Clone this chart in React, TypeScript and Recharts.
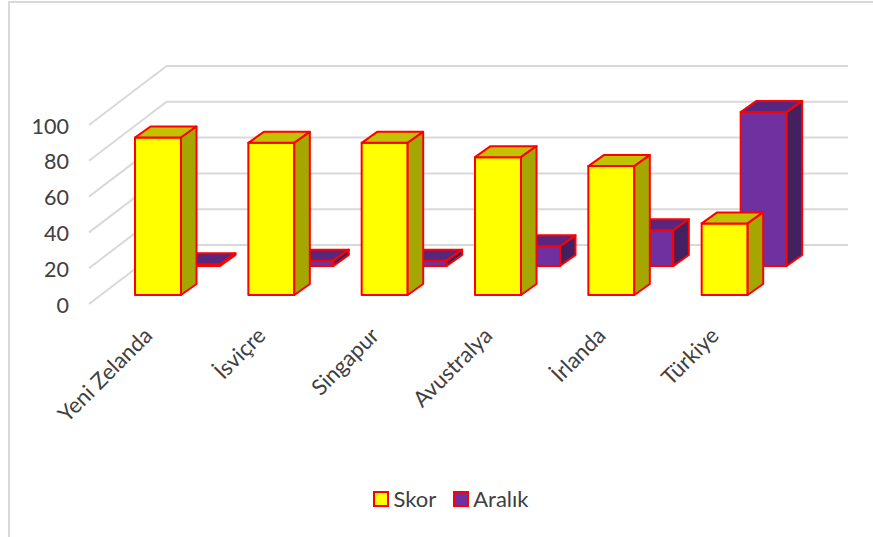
import { BarChart, Bar, XAxis, YAxis, CartesianGrid, Legend } from 'recharts'

const categories = ['Yeni Zelanda', 'İsviçre', 'Singapur', 'Avustralya', 'İrlanda', 'Türkiye']
const skor = [88, 85, 85, 77, 72, 40]
const aralik = [1, 3, 3, 11, 20, 86]
const yTicks = [0, 20, 40, 60, 80, 100]

const data = categories.map((name, i) => ({ name, Skor: skor[i], 'Aralık': aralik[i] }))

const FONT = 'Lato, sans-serif'
const TEXT = '#404040'
const GRID = '#d9d9d9'
const RED = '#ff0000'

// wall depth of the fake 3D box
const WALL_DX = 77.6
const WALL_DY = 59
const WALL_RIGHT = 848

// bar depth
const BAR_DX = 15.5
const BAR_DY = 11

// Wall line for one value: diagonal on the side wall, then across the back
const WallLine = ({ x1, y1 }: any) => (
    <polyline
        key={y1}
        points={`${x1},${y1} ${x1 + WALL_DX},${y1 - WALL_DY} ${WALL_RIGHT},${y1 - WALL_DY}`}
        fill="none"
        stroke={GRID}
        strokeWidth={2}
    />
)

// One bar as a box, moved into its own depth row
const Box3D = ({ x, y, width, height, fill, top, side, shiftX, shiftY }: any) => {
    const l = x + shiftX
    const r = l + width
    const t = y + shiftY
    const b = t + height
    return (
        <g stroke={RED} strokeWidth={2} strokeLinejoin="round">
            <polygon fill={fill} points={`${l},${t} ${r},${t} ${r},${b} ${l},${b}`} />
            <polygon fill={top} points={`${l},${t} ${l + BAR_DX},${t - BAR_DY} ${r + BAR_DX},${t - BAR_DY} ${r},${t}`} />
            <polygon fill={side} points={`${r},${t} ${r + BAR_DX},${t - BAR_DY} ${r + BAR_DX},${b - BAR_DY} ${r},${b}`} />
        </g>
    )
}

const YTick = ({ y, payload }: any) => (
    <text x={69} y={y + 1} dy="0.35em" textAnchor="end" fontFamily={FONT} fontSize={21.5} fill={TEXT}>
        {payload.value}
    </text>
)

const XTick = ({ x, y, payload }: any) => (
    <text
        x={x + 8}
        y={y + 25}
        textAnchor="end"
        fontFamily={FONT}
        fontSize={22}
        fill={TEXT}
        transform={`rotate(-45 ${x + 8} ${y + 25})`}
    >
        {payload.value}
    </text>
)

// Skor comes first in the legend although it is drawn last
const ChartLegend = ({ payload }: any) => (
    <div style={{ display: 'flex', justifyContent: 'center', gap: 17, fontFamily: FONT, fontSize: 22, color: TEXT }}>
        {[...(payload || [])].reverse().map((item: any) => (
            <div key={item.value} style={{ display: 'flex', alignItems: 'center', gap: 4 }}>
                <span style={{ width: 12, height: 12, background: item.color, border: `2px solid ${RED}` }} />
                <span>{item.value}</span>
            </div>
        ))}
    </div>
)

export default function App() {
    return (
        <div style={{ position: 'absolute', left: 0, top: 0, width: 873, height: 537, background: '#fff', overflow: 'hidden' }}>
            <div style={{
                position: 'absolute',
                left: 8,
                top: 1,
                right: 0,
                bottom: 0,
                borderLeft: `2.5px solid ${GRID}`,
                borderTop: `2px solid ${GRID}`
            }} />
            <BarChart
                width={873}
                height={537}
                data={data}
                barSize={46}
                barGap={0}
                margin={{ top: 125, right: 104, bottom: 53, left: 0 }}
                style={{ position: 'absolute', left: 0, top: 0 }}
            >
                <CartesianGrid vertical={false} horizontal={WallLine} />
                <XAxis dataKey="name" interval={0} height={150} axisLine={false} tickLine={false} tick={XTick} />
                <YAxis domain={[0, 100]} ticks={yTicks} width={89} axisLine={false} tickLine={false} tick={YTick} />
                <Legend
                    content={ChartLegend}
                    wrapperStyle={{ position: 'absolute', left: 0, width: 902, top: 485, height: 30 }}
                />
                <Bar
                    dataKey="Aralık"
                    fill="#7030a0"
                    isAnimationActive={false}
                    shape={(props: any) => <Box3D {...props} top="#59267f" side="#43205f" shiftX={74} shiftY={-38} />}
                />
                <Bar
                    dataKey="Skor"
                    fill="#ffff00"
                    isAnimationActive={false}
                    shape={(props: any) => <Box3D {...props} top="#c2c200" side="#a6a600" shiftX={-11} shiftY={-9} />}
                />
            </BarChart>
        </div>
    )
}
